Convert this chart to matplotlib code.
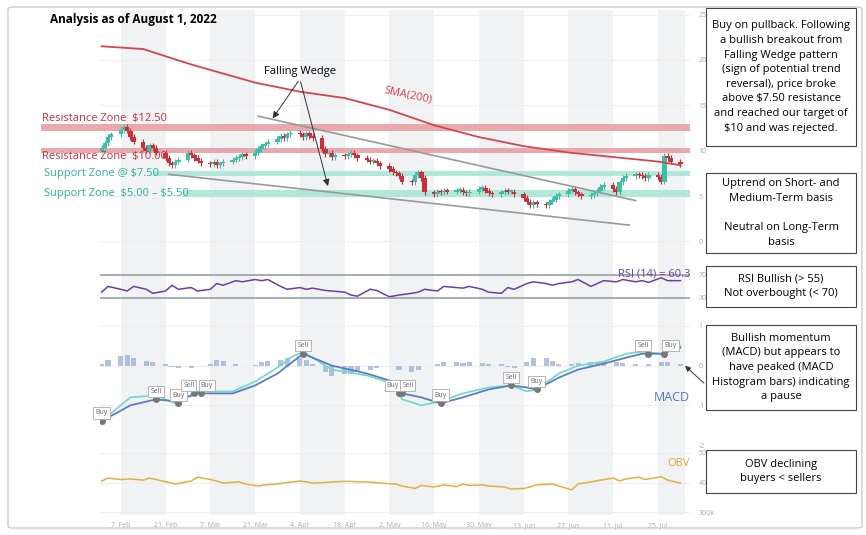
import numpy as np
import pandas as pd
import matplotlib
matplotlib.use("Agg")
import matplotlib.pyplot as plt
from matplotlib.patches import Rectangle, FancyBboxPatch

plt.rcParams['font.family'] = ['Open Sans', 'DejaVu Sans']

# ---- data ----
days = pd.bdate_range('2022-02-01', '2022-08-01')
closes = [10.3, 10.8, 11.5, 11.8, 12.3, 12.6, 12.2, 11.5, 11.0, 10.3, 10.0, 10.6, 10.3, 9.8, 9.2, 8.6, 8.4, 8.8, 9.0, 9.8,
          9.5, 9.2, 8.9, 8.6, 8.5, 8.8, 8.4, 8.6, 8.8, 9.0, 9.2, 9.3, 9.6, 9.4, 9.8, 10.2, 10.5, 10.7, 11.0, 11.3, 11.6, 11.4, 11.8,
          12.0, 11.8, 11.5, 11.9, 11.6, 11.4, 10.2, 9.6, 9.8, 9.3, 9.5, 9.4, 9.6, 9.8, 9.5, 9.2, 9.0, 8.8, 8.9, 8.6, 8.3,
          8.0, 7.6, 7.5, 7.2, 6.6, 6.5, 7.3, 7.6, 7.0, 5.4, 5.2, 5.5, 5.4, 5.6, 5.5, 5.6, 5.7, 5.4, 5.3, 5.5, 5.8, 5.9,
          5.6, 5.3, 5.2, 5.4, 5.6, 5.5, 5.5, 5.2, 4.8, 4.4, 4.0, 4.3, 4.1, 4.0, 4.4, 4.6, 5.0, 5.2, 5.6, 5.8, 5.4, 5.2,
          5.0, 5.1, 5.3, 5.6, 6.0, 6.2, 5.8, 5.4, 6.5, 7.0, 7.2, 7.4, 7.3, 7.2, 7.0, 7.3, 7.1, 6.6, 9.4, 9.2, 8.8,
          8.5]
sma_dates = ['2022-02-01', '2022-02-14', '2022-03-01', '2022-03-21', '2022-04-04', '2022-04-18', '2022-05-02',
             '2022-05-16', '2022-05-30', '2022-06-13', '2022-06-27', '2022-07-11', '2022-07-25', '2022-08-01']
sma = [21.5, 21.2, 19.5, 17.5, 16.5, 15.8, 14.5, 12.8, 11.5, 10.5, 9.8, 9.3, 8.8, 8.4]

rsi = [40, 50, 45, 42, 50, 45, 38, 42, 52, 45, 48, 42, 45, 55, 52, 60, 58, 62, 60, 62, 50, 45, 48, 45, 47, 43,
       42, 40, 35, 33, 45, 43, 32, 35, 38, 40, 45, 42, 50, 48, 47, 50, 45, 40, 38, 48, 45, 55, 58, 55, 52, 55,
       58, 62, 50, 55, 60, 58, 62, 58, 60, 57, 65, 60, 60]

macd_dates = ['2022-02-01', '2022-02-10', '2022-02-18', '2022-02-24', '2022-03-03', '2022-03-14', '2022-03-21',
              '2022-03-28', '2022-04-01', '2022-04-05', '2022-04-14', '2022-04-25', '2022-05-03', '2022-05-06',
              '2022-05-12', '2022-05-18', '2022-05-25', '2022-06-02', '2022-06-09', '2022-06-14', '2022-06-17',
              '2022-06-24', '2022-06-30', '2022-07-08', '2022-07-15', '2022-07-20', '2022-07-26', '2022-08-01']
signal = [-1.4, -1.0, -0.85, -0.9, -0.7, -0.7, -0.5, -0.2, 0.05, 0.3, 0.0, -0.2, -0.4, -0.7, -0.8, -0.95, -0.8,
          -0.6, -0.5, -0.55, -0.6, -0.3, -0.1, 0.05, 0.2, 0.3, 0.3, 0.45]
macd = [-1.4, -0.8, -0.75, -0.95, -0.65, -0.65, -0.4, -0.05, 0.2, 0.35, -0.1, -0.25, -0.45, -0.85, -1.0, -0.9,
        -0.7, -0.55, -0.5, -0.65, -0.6, -0.2, 0.0, 0.1, 0.3, 0.35, 0.3, 0.5]
hist = [0.05, 0.15, 0.25, 0.28, 0.2, 0.12, 0.08, 0.05, -0.03, -0.06, -0.05, -0.02, 0.05, 0.15, 0.12, 0.05, 0.0,
        0.02, 0.08, 0.12, 0.15, 0.18, 0.2, 0.15, 0.05, -0.15, -0.25, -0.22, -0.2, -0.15, -0.1, -0.05, -0.02, -0.1,
        -0.15, -0.1, 0.0, 0.05, 0.1, 0.08, 0.06, 0.08, 0.07, 0.05, 0.03, -0.03, -0.05, 0.08, 0.18, 0.2, 0.12, 0.05,
        0.04, 0.06, 0.08, 0.1, 0.1, 0.08, 0.06, 0.03, -0.02, 0.05, 0.1, 0.08, 0.03]
sig_labels = ['Buy', 'Sell', 'Buy', 'Sell', 'Buy', 'Sell', 'Buy', 'Sell', 'Buy', 'Sell', 'Buy', 'Sell', 'Buy']
sig_dates = ['2022-02-01', '2022-02-18', '2022-02-25', '2022-03-02', '2022-03-04', '2022-04-05', '2022-05-05',
             '2022-05-06', '2022-05-18', '2022-06-09', '2022-06-17', '2022-07-22', '2022-07-27']
sig_vals = [-1.4, -0.85, -0.95, -0.7, -0.7, 0.3, -0.7, -0.7, -0.95, -0.5, -0.6, 0.3, 0.3]
sig_align = ['center', 'center', 'center', 'right', 'left', 'center', 'right', 'left', 'center', 'center',
             'center', 'right', 'left']

obv = [405, 415, 410, 412, 408, 415, 410, 400, 395, 405, 418, 410, 405, 398, 402, 395, 388, 392, 395, 400, 405,
       402, 398, 400, 402, 404, 403, 402, 400, 398, 395, 388, 380, 390, 385, 392, 386, 395, 390, 392, 388, 385,
       378, 380, 385, 392, 395, 388, 375, 395, 402, 408, 415, 405, 412, 418, 410, 420, 408, 398]

tick_dates = ['2022-02-07', '2022-02-21', '2022-03-07', '2022-03-21', '2022-04-04', '2022-04-18', '2022-05-02',
              '2022-05-16', '2022-05-30', '2022-06-13', '2022-06-27', '2022-07-11', '2022-07-25']
tick_labels = ['7. Feb', '21. Feb', '7. Mar', '21. Mar', '4. Apr', '18. Apr', '2. May', '16. May', '30. May',
               '13. Jun', '27. Jun', '11. Jul', '25. Jul']

W, H = 866, 535
fig = plt.figure(figsize=(W / 100, H / 100), dpi=100)


def ax_px(y0, y1):
    return fig.add_axes([100 / W, 1 - y1 / H, 590 / W, (y1 - y0) / H])


xlo = pd.Timestamp('2022-01-31 12:00')
xhi = pd.Timestamp('2022-08-04')
grey_text = '#aaaaaa'

# background stripes spanning all panels
bg = ax_px(10, 515)
bg.set_xlim(xlo, xhi)
bg.axis('off')
for k in range(0, len(tick_dates), 2):
    bg.axvspan(pd.Timestamp(tick_dates[k]), min(pd.Timestamp(tick_dates[k]) + pd.Timedelta(days=14),
               pd.Timestamp('2022-08-02 12:00')), color='#f1f2f4', lw=0)

axes = []
for y0, y1, lo, hi, ticks, labs in [(10, 246, -0.5, 25.5, [0, 5, 10, 15, 20, 25], ['0', '5', '10', '15', '20', '25']),
                                     (268, 310, 9, 82, [30, 70], ['30%', '70%']),
                                     (318, 445, -2, 1.2, [-2, -1, 0, 1], ['-2', '-1', '0', '1']),
                                     (450, 515, 290, 510, [300, 400, 500], ['300k', '400', '500'])]:
    a = ax_px(y0, y1)
    a.patch.set_alpha(0)
    a.set_xlim(xlo, xhi)
    a.set_ylim(lo, hi)
    for s in a.spines.values():
        s.set_visible(False)
    a.yaxis.tick_right()
    a.set_yticks(ticks)
    a.set_yticklabels(labs, fontsize=5, color=grey_text)
    a.tick_params(length=0, pad=6)
    a.set_xticks([])
    for t in ticks:
        a.axhline(t, color='#eeeeee', lw=0.8, zorder=0)
    axes.append(a)
ax, axr, axm, axo = axes

# price
up_c, dn_c = '#3dbfa5', '#c9303a'
opens = [closes[0] - 0.3] + closes[:-1]
for d, o, c in zip(days, opens, closes):
    col = up_c if c >= o else dn_c
    ax.vlines(d, min(o, c) - 0.3, max(o, c) + 0.3, color=col, lw=0.8, zorder=3)
    ax.bar(d, max(abs(c - o), 0.15), bottom=min(o, c), width=1.4, color=col, zorder=3)
ax.plot(pd.to_datetime(sma_dates), sma, color='#d5454f', lw=1.3, zorder=4)
ax.text(pd.Timestamp('2022-04-30'), 15.3, 'SMA(200)', color='#d5454f', fontsize=8, rotation=-12)

for lo_, hi_, x0, col in [(12.2, 12.9, -0.1, '#e8a0a4'), (9.7, 10.3, -0.1, '#e8a0a4'),
                          (7.2, 7.8, 0.09, '#a8e6d6'), (4.9, 5.7, 0.14, '#a8e6d6')]:
    ax.axhspan(lo_, hi_, xmin=x0, xmax=1, color=col, alpha=0.9, zorder=1, clip_on=False, lw=0)
tr = ax.get_yaxis_transform()
ax.text(-0.098, 12.9, 'Resistance Zone  \\$12.50', transform=tr, color='#c9303a', fontsize=8, va='bottom')
ax.text(-0.098, 8.75, 'Resistance Zone  \\$10.00', transform=tr, color='#c9303a', fontsize=8, va='bottom')
ax.text(-0.095, 7.5, 'Support Zone @ \\$7.50', transform=tr, color='#2bb39a', fontsize=8, va='center')
ax.text(-0.095, 5.3, 'Support Zone  \\$5.00 – \\$5.50', transform=tr, color='#2bb39a', fontsize=8, va='center')

ax.plot(pd.to_datetime(['2022-03-22', '2022-07-18']), [13.8, 4.5], color='#999999', lw=1.2, zorder=4)
ax.plot(pd.to_datetime(['2022-02-22', '2022-07-16']), [7.4, 1.8], color='#999999', lw=1.2, zorder=4)
ax.text(pd.Timestamp('2022-04-04'), 18.4, 'Falling Wedge', fontsize=8, ha='center')
for tx, ty in [('2022-03-26', 13.3), ('2022-04-13', 5.8)]:
    ax.annotate('', xy=(pd.Timestamp(tx), ty), xytext=(pd.Timestamp('2022-04-04'), 17.9),
                arrowprops=dict(arrowstyle='-|>', color='#333333', lw=0.7), zorder=5)

# RSI
ix = np.linspace(0, len(days) - 1, len(rsi)).round().astype(int)
axr.plot(days[ix], rsi, color='#6a3fa6', lw=1.1)
for lv in [30, 70]:
    axr.axhline(lv, color='#9aa0a6', lw=1.2)
axr.text(1.0, 82, 'RSI (14) = 60.3', transform=axr.get_yaxis_transform(), ha='right', va='top',
         color='#6a3fa6', fontsize=8)

# MACD
ix = np.linspace(0, len(days) - 1, len(hist)).round().astype(int)
axm.bar(days[ix], hist, width=1.6, color='#9fb3d9', alpha=0.8)
axm.plot(pd.to_datetime(macd_dates), macd, color='#6fd8cc', lw=1.2)
axm.plot(pd.to_datetime(macd_dates), signal, color='#5a7fc0', lw=1.3)
for lab, d, v, al in zip(sig_labels, sig_dates, sig_vals, sig_align):
    axm.plot(pd.Timestamp(d), v, 'o', color='#777777', ms=4, zorder=5)
    axm.text(pd.Timestamp(d), v + 0.12, lab, fontsize=5, color='#666666', ha=al, va='bottom',
             bbox=dict(boxstyle='square,pad=0.3', fc='white', ec='#aaaaaa', lw=0.6), zorder=6)
axm.text(1.0, -0.9, 'MACD', transform=axm.get_yaxis_transform(), ha='right', color='#4a78c2', fontsize=9)

# OBV
ix = np.linspace(0, len(days) - 1, len(obv)).round().astype(int)
axo.plot(days[ix], obv, color='#e0b040', lw=1.1)
axo.text(1.0, 455, 'OBV', transform=axo.get_yaxis_transform(), ha='right', color='#e0a830', fontsize=8)
axo.set_xticks(pd.to_datetime(tick_dates))
axo.set_xticklabels(tick_labels, fontsize=5, color=grey_text)
axo.tick_params(axis='x', length=0, pad=5)

# frame and title
fig.patches.append(FancyBboxPatch((8 / W, 7 / H), 854 / W, 521 / H, boxstyle='round,pad=0,rounding_size=0.005',
                                  transform=fig.transFigure, fc='none', ec='#cccccc', lw=1))
fig.text(50 / W, 1 - 19 / H, 'Analysis as of August 1, 2022', fontsize=8.5, weight='bold', va='center')

# right boxes
boxes = [((706, 8, 150, 138), 'Buy on pullback. Following\na bullish breakout from\nFalling Wedge pattern\n(sign of potential trend\nreversal), price broke\nabove $7.50 resistance\nand reached our target of\n$10 and was rejected.'),
         ((706, 173, 150, 80), 'Uptrend on Short- and\nMedium-Term basis\n\nNeutral on Long-Term\nbasis'),
         ((706, 266, 150, 41), 'RSI Bullish (> 55)\nNot overbought (< 70)'),
         ((706, 325, 150, 85), 'Bullish momentum\n(MACD) but appears to\nhave peaked (MACD\nHistogram bars) indicating\na pause'),
         ((706, 450, 150, 43), 'OBV declining\nbuyers < sellers')]
for (x, y, w, h), txt in boxes:
    fig.patches.append(Rectangle((x / W, 1 - (y + h) / H), w / W, h / H, transform=fig.transFigure,
                                 fc='white', ec='#444444', lw=0.8))
    fig.text((x + w / 2) / W, 1 - (y + h / 2) / H, txt, ha='center', va='center', fontsize=8, linespacing=1.45)
fig.add_artist(matplotlib.patches.FancyArrowPatch((706 / W, 1 - 385 / H), (683 / W, 1 - 364 / H),
                                                  transform=fig.transFigure, arrowstyle='-|>',
                                                  mutation_scale=8, color='#333333', lw=0.7))

fig.savefig('out.png', dpi=100)
